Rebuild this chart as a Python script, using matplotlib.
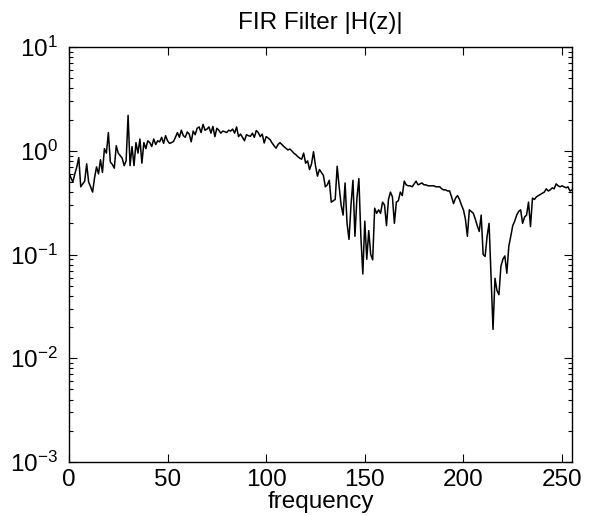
import numpy as np
import matplotlib
matplotlib.use("Agg")
import matplotlib.pyplot as plt
from matplotlib.ticker import LogLocator, FixedLocator

plt.rcParams['font.family'] = ['Liberation Sans', 'DejaVu Sans']
plt.rcParams['mathtext.fontset'] = 'custom'
plt.rcParams['mathtext.rm'] = 'Liberation Sans'
plt.rcParams['mathtext.it'] = 'Liberation Sans:italic'
plt.rcParams['mathtext.bf'] = 'Liberation Sans:bold'

title = "FIR Filter |H(z)|"
xlabel = "frequency"
xticks = [0, 50, 100, 150, 200, 250]

freq = list(range(256))
magnitude = [
    0.62, 0.55, 0.50, 0.60, 0.70, 0.86, 0.45, 0.48, 0.51, 0.75,
    0.50, 0.45, 0.40, 0.55, 0.70, 0.60, 0.82, 0.62, 1.05, 0.95,
    1.50, 0.78, 0.74, 0.68, 1.12, 0.95, 0.90, 0.85, 0.72, 0.80,
    2.20, 0.72, 1.10, 0.72, 1.20, 0.95, 1.30, 0.76, 1.20, 1.05,
    1.25, 1.20, 1.10, 1.30, 1.15, 1.25, 1.22, 1.35, 1.18, 1.40,
    1.25, 1.18, 1.20, 1.23, 1.35, 1.50, 1.35, 1.58, 1.40, 1.35,
    1.52, 1.45, 1.22, 1.55, 1.43, 1.65, 1.70, 1.50, 1.80, 1.58,
    1.62, 1.70, 1.48, 1.72, 1.37, 1.65, 1.58, 1.48, 1.55, 1.53,
    1.50, 1.58, 1.55, 1.62, 1.48, 1.70, 1.37, 1.45, 1.35, 1.25,
    1.43, 1.40, 1.38, 1.48, 1.35, 1.57, 1.50, 1.37, 1.45, 1.19,
    1.37, 1.33, 1.28, 1.19, 1.12, 1.06, 1.15, 1.20, 1.15, 1.10,
    1.06, 1.02, 1.04, 1.00, 0.95, 0.92, 0.88, 0.85, 0.83, 0.95,
    0.76, 0.80, 0.66, 0.75, 0.98, 0.72, 0.57, 0.66, 0.62, 0.58,
    0.45, 0.47, 0.52, 0.32, 0.33, 0.34, 0.71, 0.45, 0.30, 0.24,
    0.49, 0.20, 0.14, 0.30, 0.52, 0.15, 0.35, 0.54, 0.15, 0.065,
    0.21, 0.09, 0.17, 0.10, 0.089, 0.28, 0.25, 0.27, 0.25, 0.32,
    0.30, 0.19, 0.34, 0.40, 0.36, 0.20, 0.32, 0.33, 0.40, 0.37,
    0.51, 0.47, 0.46, 0.46, 0.45, 0.48, 0.51, 0.47, 0.48, 0.49,
    0.47, 0.47, 0.46, 0.46, 0.46, 0.46, 0.45, 0.45, 0.45, 0.43,
    0.42, 0.42, 0.41, 0.41, 0.36, 0.31, 0.35, 0.37, 0.34, 0.30,
    0.27, 0.22, 0.15, 0.27, 0.26, 0.25, 0.22, 0.19, 0.167, 0.24,
    0.10, 0.096, 0.15, 0.20, 0.06, 0.019, 0.059, 0.045, 0.041, 0.077,
    0.09, 0.097, 0.066, 0.12, 0.15, 0.19, 0.21, 0.24, 0.26, 0.27,
    0.20, 0.23, 0.24, 0.32, 0.186, 0.35, 0.34, 0.36, 0.37, 0.38,
    0.39, 0.40, 0.43, 0.41, 0.42, 0.44, 0.43, 0.48, 0.46, 0.45,
    0.46, 0.45, 0.44, 0.45, 0.41, 0.42,
]

fig = plt.figure(figsize=(5.89, 5.16), dpi=100)
ax = fig.add_axes([0.117, 0.1047, 0.854, 0.804])
ax.plot(freq, magnitude, color='black', lw=1.1)
ax.set_yscale('log')
ax.set_xlim(0, 255)
ax.set_ylim(1e-3, 1e1)
ax.xaxis.set_major_locator(FixedLocator(xticks))
ax.yaxis.set_major_locator(LogLocator(base=10, numticks=10))
ax.yaxis.set_minor_locator(LogLocator(base=10, subs=np.arange(2, 10), numticks=10))
ax.tick_params(which='both', direction='in', top=True, right=True, labelsize=17.5, width=0.8)
ax.tick_params(which='major', length=6)
ax.tick_params(axis='y', which='major', pad=8)
ax.tick_params(axis='x', which='major', pad=5)
ax.tick_params(which='minor', length=3)
for s in ax.spines.values():
    s.set_linewidth(1.0)
ax.set_title(title, fontsize=17.5, pad=13)
ax.set_xlabel(xlabel, fontsize=17.5, labelpad=0)
fig.savefig('out.png', dpi=100)
